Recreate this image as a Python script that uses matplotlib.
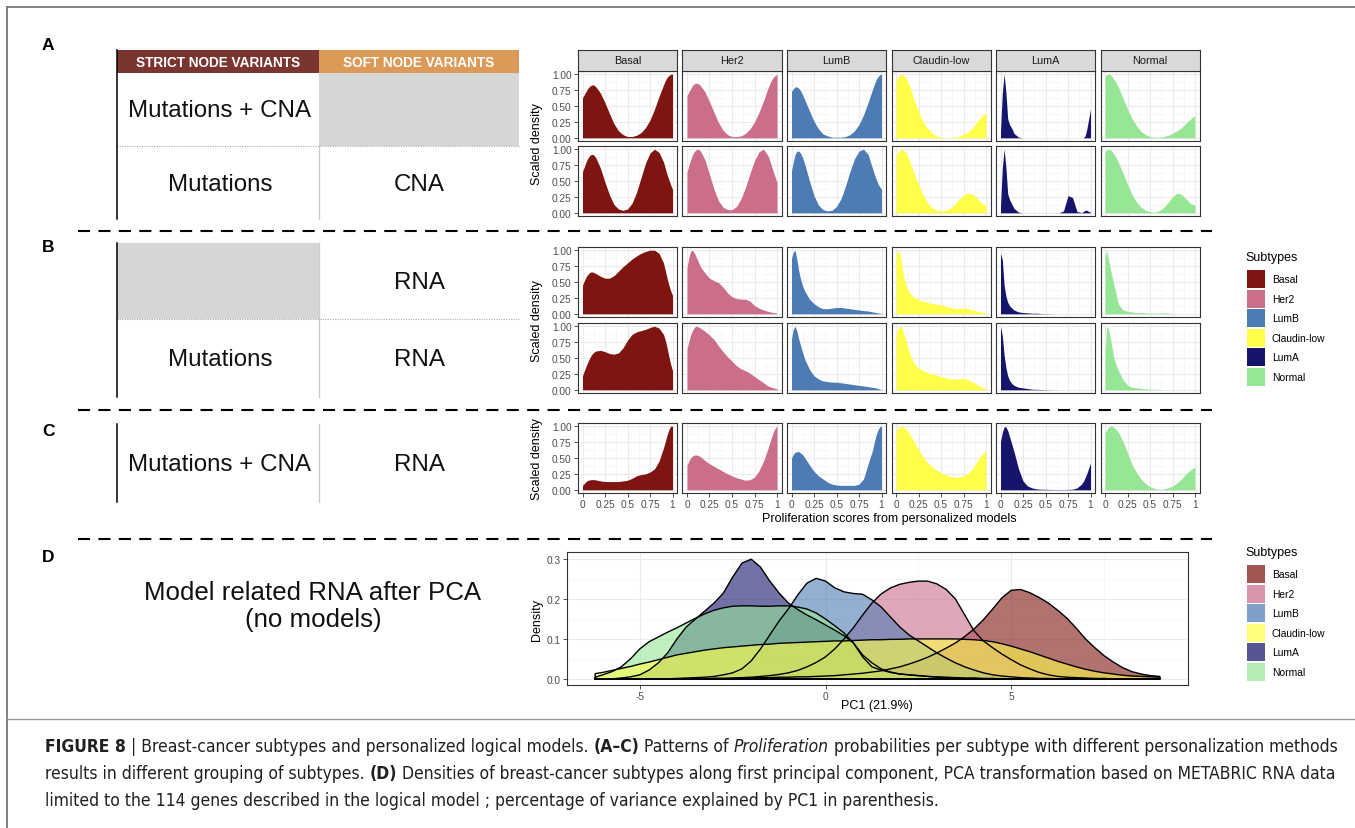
import matplotlib.pyplot as plt
from matplotlib import font_manager
from matplotlib.patches import Rectangle

W, H = 1355, 829
plt.rcParams['font.family'] = ['Liberation Sans', 'DejaVu Sans']
plt.rcParams['axes.unicode_minus'] = False

# caption font: a narrow family if one is installed
cond = [f for f in font_manager.fontManager.ttflist
        if f.stretch in ('condensed', 'semi-condensed', 'extra-condensed')
        or 'Narrow' in f.name or 'Condensed' in f.name]
cond.sort(key=lambda f: (0 if 'Liberation' in f.name else 1 if 'DejaVu' in f.name else 2))
if cond:
    CAP_FAMILY, CAP_STRETCH = cond[0].name, cond[0].stretch
else:
    CAP_FAMILY, CAP_STRETCH = 'Liberation Sans', 'normal'

### Data
subtypes = ["Basal", "Her2", "LumB", "Claudin-low", "LumA", "Normal"]
colors = ["#7F1511", "#CB6E8A", "#4C7CB3", "#FFFF4A", "#15156B", "#96E696"]

# proliferation score grid shared by all facet curves
score = [0, 0.02, 0.04, 0.06, 0.08, 0.1, 0.125, 0.15, 0.2, 0.25, 0.3, 0.35, 0.4, 0.45,
         0.5, 0.55, 0.6, 0.65, 0.7, 0.75, 0.8, 0.85, 0.9, 0.92, 0.94, 0.96, 0.98, 1.0]

# A, top: strict Mutations + CNA
row_a1 = [
    [0.63, 0.68, 0.73, 0.78, 0.81, 0.83, 0.83, 0.80, 0.70, 0.55, 0.38, 0.22, 0.11, 0.05, 0.02, 0.02, 0.04, 0.08, 0.16, 0.28, 0.45, 0.65, 0.83, 0.90, 0.95, 0.98, 1.00, 1.00],
    [0.66, 0.72, 0.77, 0.82, 0.85, 0.86, 0.85, 0.82, 0.72, 0.57, 0.40, 0.24, 0.12, 0.05, 0.02, 0.02, 0.03, 0.07, 0.14, 0.25, 0.40, 0.58, 0.78, 0.85, 0.91, 0.95, 0.98, 1.00],
    [0.73, 0.77, 0.80, 0.80, 0.78, 0.74, 0.67, 0.59, 0.42, 0.26, 0.14, 0.06, 0.03, 0.01, 0.01, 0.01, 0.02, 0.05, 0.11, 0.21, 0.36, 0.55, 0.76, 0.84, 0.91, 0.96, 0.99, 1.00],
    [0.90, 0.95, 0.98, 1.00, 0.99, 0.96, 0.90, 0.82, 0.60, 0.42, 0.25, 0.15, 0.08, 0.03, 0.01, 0.004, 0.004, 0.01, 0.025, 0.05, 0.09, 0.16, 0.25, 0.29, 0.32, 0.35, 0.37, 0.385],
    [0.10, 0.70, 1.00, 0.72, 0.30, 0.21, 0.15, 0.07, 0.01, 0, 0, 0, 0, 0, 0, 0, 0, 0, 0, 0, 0, 0, 0, 0, 0.03, 0.14, 0.30, 0.45],
    [0.97, 0.99, 1.00, 0.99, 0.96, 0.92, 0.86, 0.79, 0.62, 0.45, 0.30, 0.19, 0.10, 0.05, 0.02, 0.01, 0.01, 0.02, 0.04, 0.07, 0.11, 0.16, 0.23, 0.26, 0.28, 0.31, 0.33, 0.34],
]
# A, bottom: strict Mutations, soft CNA
row_a2 = [
    [0.65, 0.72, 0.80, 0.86, 0.90, 0.92, 0.91, 0.86, 0.70, 0.48, 0.28, 0.13, 0.06, 0.04, 0.06, 0.15, 0.32, 0.55, 0.78, 0.94, 1.00, 0.95, 0.80, 0.70, 0.60, 0.52, 0.44, 0.37],
    [0.64, 0.74, 0.83, 0.91, 0.96, 0.99, 1.00, 0.97, 0.83, 0.60, 0.37, 0.19, 0.09, 0.05, 0.05, 0.10, 0.22, 0.40, 0.62, 0.82, 0.96, 1.00, 0.90, 0.82, 0.73, 0.64, 0.56, 0.48],
    [0.66, 0.80, 0.92, 0.97, 0.97, 0.94, 0.86, 0.75, 0.50, 0.27, 0.12, 0.05, 0.03, 0.04, 0.10, 0.22, 0.42, 0.65, 0.85, 0.97, 1.00, 0.92, 0.70, 0.61, 0.53, 0.46, 0.41, 0.37],
    [0.90, 0.95, 0.98, 1.00, 0.99, 0.96, 0.90, 0.82, 0.62, 0.45, 0.28, 0.16, 0.08, 0.04, 0.03, 0.04, 0.07, 0.13, 0.21, 0.28, 0.31, 0.29, 0.23, 0.20, 0.17, 0.15, 0.13, 0.11],
    [0.10, 0.70, 1.00, 0.72, 0.30, 0.21, 0.14, 0.07, 0.01, 0, 0, 0, 0, 0, 0, 0, 0, 0, 0.03, 0.27, 0.24, 0.02, 0.005, 0.02, 0.04, 0.04, 0.02, 0.01],
    [0.97, 0.99, 1.00, 0.99, 0.96, 0.92, 0.86, 0.79, 0.62, 0.45, 0.29, 0.17, 0.09, 0.04, 0.02, 0.01, 0.03, 0.08, 0.16, 0.25, 0.31, 0.29, 0.22, 0.19, 0.16, 0.14, 0.13, 0.12],
]
# B, top: soft RNA
row_b1 = [
    [0.45, 0.52, 0.58, 0.62, 0.65, 0.66, 0.65, 0.63, 0.59, 0.56, 0.56, 0.60, 0.67, 0.74, 0.80, 0.86, 0.91, 0.95, 0.98, 1.00, 1.00, 0.95, 0.80, 0.68, 0.56, 0.45, 0.36, 0.29],
    [0.72, 0.88, 0.98, 1.00, 0.96, 0.90, 0.82, 0.74, 0.64, 0.56, 0.52, 0.49, 0.42, 0.33, 0.27, 0.24, 0.23, 0.23, 0.20, 0.13, 0.09, 0.06, 0.04, 0.03, 0.025, 0.02, 0.015, 0.01],
    [0.87, 0.97, 1.00, 0.85, 0.68, 0.55, 0.43, 0.35, 0.23, 0.16, 0.11, 0.08, 0.08, 0.09, 0.10, 0.10, 0.09, 0.08, 0.07, 0.06, 0.05, 0.045, 0.03, 0.025, 0.02, 0.015, 0.01, 0.005],
    [0.92, 1.00, 0.97, 0.80, 0.62, 0.50, 0.40, 0.33, 0.26, 0.22, 0.20, 0.18, 0.16, 0.15, 0.14, 0.12, 0.10, 0.08, 0.08, 0.09, 0.08, 0.06, 0.04, 0.035, 0.03, 0.025, 0.02, 0.015],
    [0.95, 0.85, 0.45, 0.28, 0.18, 0.13, 0.09, 0.06, 0.03, 0.02, 0.015, 0.01, 0.01, 0.005, 0.003, 0.002, 0, 0, 0, 0, 0, 0, 0, 0, 0, 0, 0, 0],
    [0.90, 1.00, 0.85, 0.70, 0.58, 0.45, 0.30, 0.15, 0.06, 0.04, 0.03, 0.02, 0.02, 0.015, 0.01, 0.01, 0.01, 0.015, 0.01, 0.005, 0, 0, 0, 0, 0, 0, 0, 0],
]
# B, bottom: strict Mutations, soft RNA
row_b2 = [
    [0.22, 0.30, 0.37, 0.44, 0.50, 0.55, 0.59, 0.61, 0.62, 0.60, 0.57, 0.56, 0.58, 0.66, 0.78, 0.87, 0.91, 0.93, 0.95, 0.98, 1.00, 0.97, 0.87, 0.78, 0.66, 0.52, 0.40, 0.30],
    [0.64, 0.76, 0.86, 0.93, 0.98, 1.00, 0.99, 0.97, 0.92, 0.86, 0.79, 0.69, 0.60, 0.52, 0.45, 0.38, 0.33, 0.30, 0.26, 0.21, 0.16, 0.11, 0.06, 0.05, 0.04, 0.03, 0.025, 0.02],
    [0.80, 0.95, 1.00, 0.92, 0.80, 0.70, 0.58, 0.47, 0.32, 0.22, 0.17, 0.14, 0.13, 0.12, 0.12, 0.11, 0.10, 0.09, 0.08, 0.07, 0.06, 0.05, 0.04, 0.035, 0.03, 0.02, 0.01, 0.005],
    [0.85, 0.95, 1.00, 0.99, 0.92, 0.82, 0.70, 0.58, 0.42, 0.34, 0.30, 0.27, 0.25, 0.23, 0.21, 0.19, 0.17, 0.17, 0.17, 0.18, 0.16, 0.12, 0.08, 0.065, 0.05, 0.04, 0.03, 0.025],
    [1.00, 0.85, 0.55, 0.35, 0.22, 0.15, 0.10, 0.07, 0.04, 0.03, 0.02, 0.01, 0.008, 0.005, 0.003, 0.002, 0.001, 0, 0, 0, 0, 0, 0, 0, 0, 0, 0, 0],
    [0.60, 1.00, 0.95, 0.80, 0.65, 0.50, 0.38, 0.30, 0.16, 0.07, 0.04, 0.03, 0.02, 0.015, 0.01, 0.01, 0.005, 0, 0, 0, 0, 0, 0, 0, 0, 0, 0, 0],
]
# C: strict Mutations + CNA, soft RNA
row_c = [
    [0.07, 0.10, 0.13, 0.15, 0.155, 0.16, 0.16, 0.155, 0.14, 0.13, 0.13, 0.13, 0.13, 0.14, 0.15, 0.18, 0.22, 0.24, 0.25, 0.28, 0.33, 0.45, 0.66, 0.76, 0.86, 0.95, 1.00, 1.00],
    [0.39, 0.45, 0.50, 0.53, 0.545, 0.55, 0.54, 0.52, 0.46, 0.41, 0.37, 0.33, 0.29, 0.25, 0.22, 0.19, 0.17, 0.15, 0.16, 0.20, 0.30, 0.45, 0.65, 0.74, 0.83, 0.91, 0.97, 1.00],
    [0.50, 0.56, 0.59, 0.60, 0.60, 0.58, 0.55, 0.50, 0.39, 0.29, 0.22, 0.17, 0.12, 0.09, 0.075, 0.07, 0.07, 0.07, 0.07, 0.09, 0.17, 0.40, 0.62, 0.75, 0.86, 0.94, 0.99, 1.00],
    [0.92, 0.97, 0.99, 1.00, 0.99, 0.97, 0.93, 0.88, 0.76, 0.63, 0.52, 0.43, 0.36, 0.31, 0.27, 0.24, 0.21, 0.20, 0.20, 0.22, 0.26, 0.33, 0.44, 0.49, 0.53, 0.56, 0.59, 0.60],
    [0.76, 0.90, 0.99, 0.99, 0.93, 0.84, 0.72, 0.60, 0.33, 0.14, 0.06, 0.03, 0.015, 0.01, 0.008, 0.006, 0.005, 0.005, 0.005, 0.006, 0.01, 0.03, 0.09, 0.13, 0.19, 0.26, 0.34, 0.42],
    [0.90, 0.94, 0.98, 1.00, 1.00, 0.98, 0.95, 0.90, 0.76, 0.58, 0.40, 0.27, 0.17, 0.10, 0.05, 0.02, 0.01, 0.01, 0.03, 0.06, 0.11, 0.17, 0.25, 0.28, 0.30, 0.32, 0.34, 0.36],
]
facet_rows = [row_a1, row_a2, row_b1, row_b2, row_c]

# D: density along PC1
pc1 = [-6.2, -6, -5.75, -5.5, -5.25, -5, -4.75, -4.5, -4.25, -4, -3.75, -3.5, -3.25,
       -3, -2.75, -2.5, -2.25, -2, -1.75, -1.5, -1.25, -1, -0.75, -0.5, -0.25, 0,
       0.25, 0.5, 0.75, 1, 1.25, 1.5, 1.75, 2, 2.25, 2.5, 2.75, 3, 3.25, 3.5, 3.75, 4,
       4.25, 4.5, 4.75, 5, 5.25, 5.5, 5.75, 6, 6.25, 6.5, 6.75, 7, 7.25, 7.5, 7.75, 8,
       8.25, 8.5, 8.75, 9]
dens_basal = [0, 0, 0, 0, 0, 0, 0, 0, 0, 0, 0, 0, 0,
              0.001, 0.001, 0.001, 0.002, 0.002, 0.003, 0.003, 0.004, 0.004, 0.005, 0.005, 0.006, 0.007,
              0.008, 0.01, 0.012, 0.014, 0.017, 0.02, 0.025, 0.03, 0.037, 0.045, 0.054, 0.065, 0.077, 0.09, 0.106, 0.125,
              0.148, 0.175, 0.203, 0.222, 0.224, 0.216, 0.204, 0.19, 0.172, 0.152, 0.127, 0.1, 0.078, 0.058, 0.042, 0.028,
              0.018, 0.012, 0.008, 0.006]
dens_her2 = [0, 0, 0, 0, 0, 0, 0, 0, 0, 0, 0, 0, 0,
             0.001, 0.001, 0.002, 0.003, 0.004, 0.006, 0.008, 0.011, 0.015, 0.021, 0.03, 0.041, 0.055,
             0.075, 0.1, 0.128, 0.16, 0.19, 0.213, 0.228, 0.237, 0.242, 0.245, 0.245, 0.238, 0.224, 0.2, 0.16, 0.12,
             0.095, 0.078, 0.062, 0.048, 0.035, 0.025, 0.016, 0.01, 0.006, 0.004, 0.003, 0.002, 0.001, 0.001, 0, 0,
             0, 0, 0, 0]
dens_lumb = [0, 0, 0, 0, 0, 0, 0, 0, 0, 0.001, 0.002, 0.003, 0.004,
             0.006, 0.01, 0.015, 0.025, 0.045, 0.075, 0.11, 0.145, 0.175, 0.21, 0.24, 0.252, 0.245,
             0.228, 0.218, 0.214, 0.212, 0.198, 0.18, 0.155, 0.13, 0.11, 0.095, 0.08, 0.065, 0.052, 0.04, 0.03, 0.022,
             0.015, 0.01, 0.007, 0.005, 0.003, 0.002, 0.001, 0.001, 0, 0, 0, 0, 0, 0, 0, 0,
             0, 0, 0, 0]
dens_claudin = [0.013, 0.016, 0.021, 0.026, 0.031, 0.037, 0.042, 0.048, 0.054, 0.06, 0.064, 0.068, 0.072,
                0.075, 0.078, 0.08, 0.082, 0.084, 0.086, 0.087, 0.089, 0.09, 0.091, 0.092, 0.093, 0.094,
                0.095, 0.095, 0.096, 0.097, 0.098, 0.098, 0.099, 0.099, 0.1, 0.1, 0.1, 0.1, 0.1, 0.1, 0.099, 0.098,
                0.096, 0.093, 0.088, 0.082, 0.075, 0.068, 0.06, 0.052, 0.044, 0.037, 0.03, 0.024, 0.019, 0.015, 0.012, 0.009,
                0.007, 0.006, 0.005, 0.004]
dens_luma = [0, 0, 0, 0.002, 0.005, 0.01, 0.022, 0.04, 0.065, 0.1, 0.13, 0.15, 0.17,
             0.19, 0.215, 0.255, 0.29, 0.3, 0.28, 0.245, 0.215, 0.19, 0.174, 0.16, 0.148, 0.135,
             0.122, 0.108, 0.09, 0.055, 0.03, 0.022, 0.016, 0.012, 0.01, 0.008, 0.006, 0.005, 0.004, 0.003, 0.002, 0.002,
             0.001, 0.001, 0, 0, 0, 0, 0, 0, 0, 0, 0, 0, 0, 0, 0, 0,
             0, 0, 0, 0]
dens_normal = [0.004, 0.01, 0.018, 0.03, 0.05, 0.075, 0.093, 0.105, 0.117, 0.128, 0.14, 0.152, 0.163,
               0.172, 0.178, 0.182, 0.183, 0.183, 0.182, 0.182, 0.183, 0.183, 0.18, 0.175, 0.165, 0.15,
               0.133, 0.115, 0.09, 0.06, 0.04, 0.025, 0.017, 0.012, 0.01, 0.008, 0.006, 0.004, 0.003, 0.002, 0.001, 0.001,
               0, 0, 0, 0, 0, 0, 0, 0, 0, 0, 0, 0, 0, 0, 0, 0,
               0, 0, 0, 0]
pc1_dens = [dens_basal, dens_her2, dens_lumb, dens_claudin, dens_luma, dens_normal]
d_order = [0, 1, 2, 4, 5, 3]

caption = [
    [("FIGURE 8", "bold", "normal"),
     (" | Breast-cancer subtypes and personalized logical models. ", "normal", "normal"),
     ("(A\u2013C)", "bold", "normal"), (" Patterns of ", "normal", "normal"),
     ("Proliferation", "normal", "italic"),
     (" probabilities per subtype with different personalization methods", "normal", "normal")],
    [("results in different grouping of subtypes. ", "normal", "normal"), ("(D)", "bold", "normal"),
     (" Densities of breast-cancer subtypes along first principal component, PCA transformation based on METABRIC RNA data",
      "normal", "normal")],
    [("limited to the 114 genes described in the logical model ; percentage of variance explained by PC1 in parenthesis.",
      "normal", "normal")],
]

fig = plt.figure(figsize=(W / 100, H / 100), dpi=100)
ov = fig.add_axes([0, 0, 1, 1])
ov.set_xlim(0, W)
ov.set_ylim(H, 0)
ov.axis('off')


def px_axes(x0, y0, x1, y1):
    return fig.add_axes([x0 / W, 1 - y1 / H, (x1 - x0) / W, (y1 - y0) / H])


def style_frame(ax):
    for sp in ax.spines.values():
        sp.set_color('#333333')
        sp.set_linewidth(0.8)


# frame
ov.plot([7, 7], [8, H], color='#777777', lw=1.3)
ov.plot([7, W], [8, 8], color='#777777', lw=1.3)
ov.plot([7, W], [720, 720], color='#999999', lw=1.0)

# panel letters
for lab, y in zip("ABCD", [45, 247, 432, 557]):
    ov.text(42, y, lab, fontsize=12.5, fontweight='bold', ha='left', va='center')

# dashed separators
for y in (232, 411, 540):
    ov.plot([78, 1212], [y, y], color='black', lw=1.5, linestyle=(0, (5.8, 4.0)))

# left table
ov.add_patch(Rectangle((117, 51), 202, 23, facecolor='#7A3531', lw=0))
ov.add_patch(Rectangle((319, 51), 200, 23, facecolor='#DC9A58', lw=0))
ov.text(218, 63, "STRICT NODE VARIANTS", color='white', fontsize=9.8, fontweight='bold', ha='center', va='center')
ov.text(419, 63, "SOFT NODE VARIANTS", color='white', fontsize=9.8, fontweight='bold', ha='center', va='center')
ov.add_patch(Rectangle((319, 74), 200, 73, facecolor='#D6D6D6', lw=0))
ov.add_patch(Rectangle((117, 244), 202, 76, facecolor='#D6D6D6', lw=0))
ov.plot([117, 519], [147, 147], color='#AAAAAA', lw=0.8, linestyle=(0, (1, 1.2)))
ov.plot([117, 519], [320, 320], color='#AAAAAA', lw=0.8, linestyle=(0, (1, 1.2)))
for y0, y1 in [(51, 220), (244, 398), (425, 503)]:
    ov.plot([117, 117], [y0, y1], color='black', lw=1.1)
for y0, y1 in [(147, 220), (244, 398), (425, 503)]:
    ov.plot([319, 319], [y0, y1], color='#CCCCCC', lw=1.0)

cells = [(220, 111, "Mutations + CNA"), (220, 185, "Mutations"), (419, 185, "CNA"),
         (419, 283, "RNA"), (220, 360, "Mutations"), (419, 360, "RNA"),
         (220, 465, "Mutations + CNA"), (419, 465, "RNA")]
for x, y, s in cells:
    ov.text(x, y, s, fontsize=17.4, ha='center', va='center', color='#111111')
ov.text(313, 593, "Model related RNA after PCA", fontsize=18.6, ha='center', va='center', color='#111111')
ov.text(313, 620, "(no models)", fontsize=18.6, ha='center', va='center', color='#111111')

# facet panels
col_x = [578 + 104.5 * i for i in range(6)]
panel_w = 99
row_y = [(72, 142), (147, 217), (248, 318), (324, 394), (424, 494)]
for r, (curves, (yt, yb)) in enumerate(zip(facet_rows, row_y)):
    for c in range(6):
        ax = px_axes(col_x[c], yt, col_x[c] + panel_w, yb)
        ax.set_xlim(-0.05, 1.05)
        ax.set_ylim(-0.05, 1.05)
        ax.set_xticks([0, 0.25, 0.5, 0.75, 1])
        ax.set_xticks([0.125, 0.375, 0.625, 0.875], minor=True)
        ax.set_yticks([0, 0.25, 0.5, 0.75, 1])
        ax.set_yticks([0.125, 0.375, 0.625, 0.875], minor=True)
        ax.grid(which='major', color='#EBEBEB', lw=0.8)
        ax.grid(which='minor', color='#F2F2F2', lw=0.4)
        ax.set_axisbelow(True)
        ax.fill_between(score, 0, curves[c], color=colors[c], lw=0)
        style_frame(ax)
        ax.tick_params(which='minor', length=0)
        ax.tick_params(which='major', color='#333333', labelcolor='#4D4D4D', labelsize=7.3,
                       length=3, width=0.6, pad=1.5)
        if c == 0:
            ax.set_yticklabels(['0.00', '0.25', '0.50', '0.75', '1.00'])
        else:
            ax.tick_params(axis='y', length=0, labelleft=False)
        if r == 4:
            ax.set_xticklabels(['0', '0.25', '0.5', '0.75', '1'])
        else:
            ax.tick_params(axis='x', length=0, labelbottom=False)
        if r == 0:
            st = px_axes(col_x[c], 51, col_x[c] + panel_w, 72)
            st.set_facecolor('#D9D9D9')
            st.set_xticks([])
            st.set_yticks([])
            style_frame(st)
            st.text(0.5, 0.5, subtypes[c], transform=st.transAxes, ha='center', va='center',
                    fontsize=7.8, color='#1A1A1A')

for y in (144, 321, 459):
    ov.text(537, y, "Scaled density", rotation=90, ha='center', va='center', fontsize=9)
ov.text(889, 519, "Proliferation scores from personalized models", ha='center', va='center', fontsize=9)

# panel D
axd = px_axes(567, 553, 1188, 686)
axd.set_xlim(-6.96, 9.76)
axd.set_ylim(-0.0155, 0.318)
axd.set_xticks([-5, 0, 5])
axd.set_xticks([-2.5, 2.5, 7.5], minor=True)
axd.set_yticks([0, 0.1, 0.2, 0.3])
axd.set_yticks([0.05, 0.15, 0.25], minor=True)
axd.set_yticklabels(['0.0', '0.1', '0.2', '0.3'])
axd.grid(which='major', color='#EBEBEB', lw=0.8)
axd.grid(which='minor', color='#F2F2F2', lw=0.4)
axd.set_axisbelow(True)
for k in d_order:
    xs = [pc1[0]] + pc1 + [pc1[-1]]
    ys = [0] + pc1_dens[k] + [0]
    axd.fill(xs, ys, facecolor=colors[k], alpha=0.6, edgecolor='none')
    axd.plot(xs + [xs[0]], ys + [0], color='black', lw=1.0)
style_frame(axd)
axd.tick_params(which='minor', length=0)
axd.tick_params(which='major', color='#333333', labelcolor='#4D4D4D', labelsize=7.3, length=3, width=0.6, pad=1.5)
ov.text(537, 620, "Density", rotation=90, ha='center', va='center', fontsize=9)
ov.text(877, 706, "PC1 (21.9%)", ha='center', va='center', fontsize=9)

# legends
for ty, ky, alpha in [(258, 271, 1.0), (553, 566, 0.72)]:
    ov.text(1245, ty, "Subtypes", fontsize=9, ha='left', va='center')
    for i, name in enumerate(subtypes):
        y = ky + 19.6 * i
        ov.add_patch(Rectangle((1247, y), 18, 18, facecolor=colors[i], alpha=alpha, lw=0))
        ov.text(1272, y + 9, name, fontsize=7.4, ha='left', va='center')

# caption with mixed styles
rend = fig.canvas.get_renderer()


def piece_width(s, size, wt, st):
    kw = dict(fontsize=size, fontweight=wt, fontstyle=st, family=CAP_FAMILY, fontstretch=CAP_STRETCH)
    t1 = fig.text(0, 0, '|' + s + '|', **kw)
    t2 = fig.text(0, 0, '||', **kw)
    w = t1.get_window_extent(rend).width - t2.get_window_extent(rend).width
    t1.remove()
    t2.remove()
    return w


base = 10
line1 = sum(piece_width(s, base, wt, st) for s, wt, st in caption[0])
cap_size = base * 1293 / line1
for line, y in zip(caption, [747, 774, 801]):
    x = 45
    for s, wt, st in line:
        ov.text(x, y, s, fontsize=cap_size, fontweight=wt, fontstyle=st, family=CAP_FAMILY,
                fontstretch=CAP_STRETCH, ha='left', va='center', color='#231F20')
        x += piece_width(s, cap_size, wt, st)

fig.savefig("out.png", dpi=100)
